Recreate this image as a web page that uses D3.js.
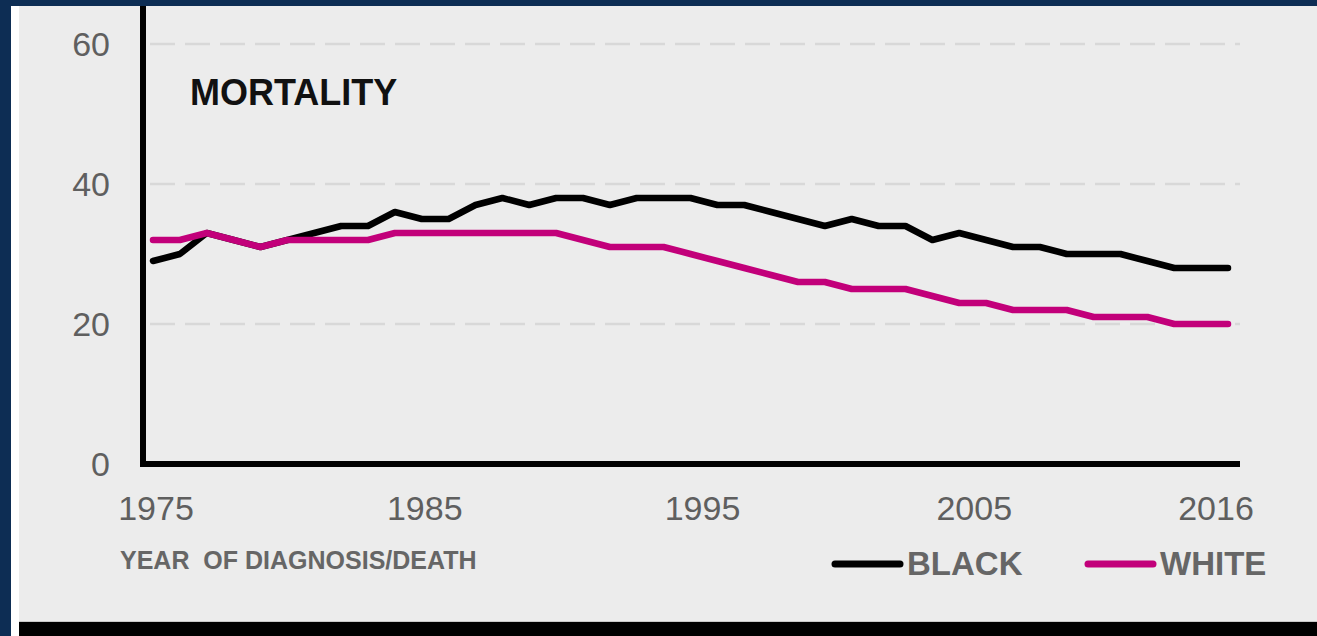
<!DOCTYPE html>
<html>
<head>
<meta charset="utf-8">
<script src="https://cdn.jsdelivr.net/npm/d3@7"></script>
<style>
  html, body { margin: 0; padding: 0; background: #0d2d54; }
  svg { display: block; font-family: "Liberation Sans", Arial, sans-serif; }
</style>
</head>
<body>
<svg width="1317" height="636"></svg>
<script>
//  data: rate per 100,000, one value per year (41 points)
var black = [29, 30, 33, 32, 31, 32, 33, 34, 34, 36, 35, 35, 37, 38, 37, 38, 38, 37, 38, 38,
             38, 37, 37, 36, 35, 34, 35, 34, 34, 32, 33, 32, 31, 31, 30, 30, 30, 29, 28, 28, 28];
var white = [32, 32, 33, 32, 31, 32, 32, 32, 32, 33, 33, 33, 33, 33, 33, 33, 32, 31, 31, 31,
             30, 29, 28, 27, 26, 26, 25, 25, 25, 24, 23, 23, 22, 22, 22, 21, 21, 21, 20, 20, 20];
var xTickLabels = ["1975", "1985", "1995", "2005", "2016"];
var xTickIndex = [0, 10, 20, 30, 40];
var yTicks = [0, 20, 40, 60];
var seriesNames = ["BLACK", "WHITE"];
var seriesColors = ["#000000", "#c2007a"];

var svg = d3.select("svg");
var width = +svg.attr("width");
var height = +svg.attr("height");

//  frame: navy border, white strip, grey panel, black band at bottom
svg.append("rect").attr("x", 11).attr("y", 6).attr("width", width - 11).attr("height", height - 6).attr("fill", "#ffffff");
svg.append("rect").attr("x", 19).attr("y", 6).attr("width", width - 19).attr("height", 616).attr("fill", "#ececec");
svg.append("rect").attr("x", 19).attr("y", 621).attr("width", width - 19).attr("height", 1).attr("fill", "#c8c8c8");
svg.append("rect").attr("x", 19).attr("y", 622).attr("width", width - 19).attr("height", height - 622).attr("fill", "#000000");

//  scales
var x = d3.scaleLinear().domain([0, black.length - 1]).range([153, 1228]);
var y = d3.scaleLinear().domain([0, 60]).range([464, 44]);

//  dashed gridlines
svg.append("g")
  .selectAll("line")
  .data(yTicks.filter(function(d) { return d > 0; }))
  .enter().append("line")
    .attr("x1", 150)
    .attr("x2", 1240)
    .attr("y1", function(d) { return y(d); })
    .attr("y2", function(d) { return y(d); })
    .attr("stroke", "#d8d8d8")
    .attr("stroke-width", 2.5)
    .attr("stroke-dasharray", "25,10");

//  y tick labels
svg.append("g")
  .selectAll("text")
  .data(yTicks)
  .enter().append("text")
    .attr("x", 110)
    .attr("y", function(d) { return y(d) + 12; })
    .attr("text-anchor", "end")
    .attr("font-size", 34)
    .attr("fill", "#5f5f5f")
    .text(function(d) { return d; });

//  x tick labels (nudged to sit where the slide put them)
var labelNudge = [3, 3, 12, 15, -12];
svg.append("g")
  .selectAll("text")
  .data(xTickIndex)
  .enter().append("text")
    .attr("x", function(d, i) { return x(d) + labelNudge[i]; })
    .attr("y", 520)
    .attr("text-anchor", "middle")
    .attr("font-size", 34)
    .attr("fill", "#5f5f5f")
    .text(function(d, i) { return xTickLabels[i]; });

//  series lines
var line = d3.line()
  .x(function(d, i) { return x(i); })
  .y(function(d) { return y(d); })
  .curve(d3.curveLinear);

[black, white].forEach(function(s, k) {
  svg.append("path")
    .datum(s)
    .attr("fill", "none")
    .attr("stroke", seriesColors[k])
    .attr("stroke-width", 6.5)
    .attr("stroke-linejoin", "round")
    .attr("stroke-linecap", "round")
    .attr("d", line);
});

//  axis lines
svg.append("line")
  .attr("x1", 143).attr("x2", 143)
  .attr("y1", 6).attr("y2", y(0) + 3)
  .attr("stroke", "#000").attr("stroke-width", 6);
svg.append("line")
  .attr("x1", 140).attr("x2", 1240)
  .attr("y1", y(0)).attr("y2", y(0))
  .attr("stroke", "#000").attr("stroke-width", 6);

//  titles
svg.append("text")
  .attr("x", 190).attr("y", 105)
  .attr("font-size", 36)
  .attr("font-weight", "bold")
  .attr("fill", "#111")
  .text("MORTALITY");

svg.append("text")
  .attr("x", 120).attr("y", 569)
  .attr("font-size", 25)
  .attr("font-weight", "bold")
  .attr("fill", "#666")
  .attr("xml:space", "preserve")
  .text("YEAR  OF DIAGNOSIS/DEATH");

//  legend
var legendX = [835, 1088];
var legend = svg.append("g");
seriesNames.forEach(function(name, k) {
  legend.append("line")
    .attr("x1", legendX[k]).attr("x2", legendX[k] + 65)
    .attr("y1", 564).attr("y2", 564)
    .attr("stroke", seriesColors[k])
    .attr("stroke-width", 7)
    .attr("stroke-linecap", "round");
  legend.append("text")
    .attr("x", legendX[k] + 72).attr("y", 575)
    .attr("font-size", 33)
    .attr("font-weight", "bold")
    .attr("fill", "#666")
    .text(name);
});
</script>
</body>
</html>
